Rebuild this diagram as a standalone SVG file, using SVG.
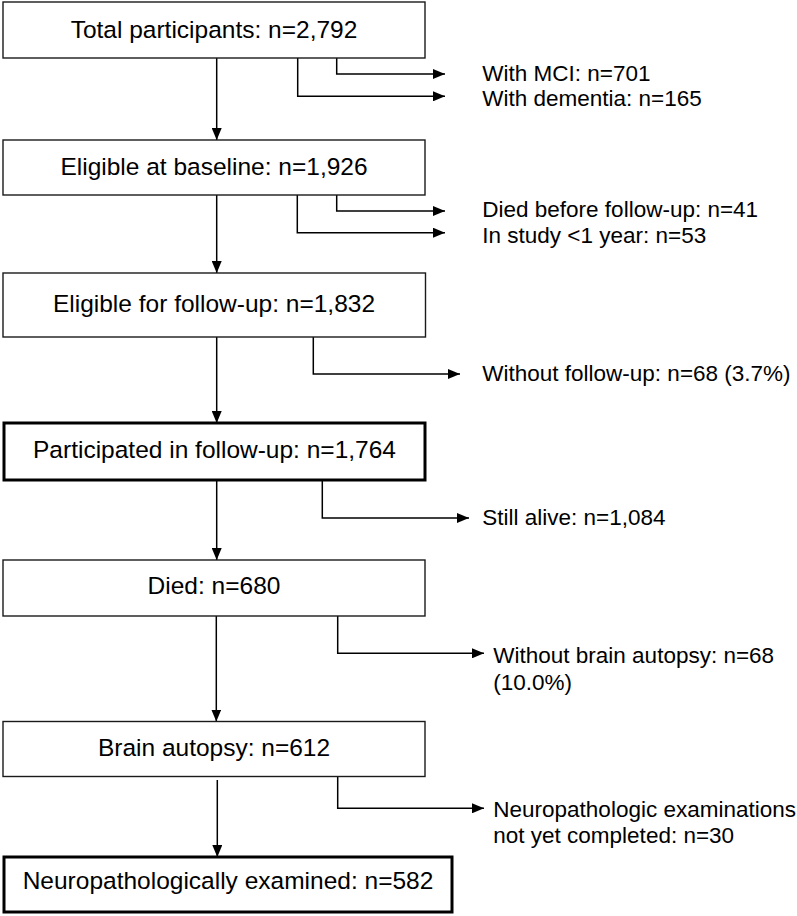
<svg xmlns="http://www.w3.org/2000/svg" width="797" height="916" viewBox="0 0 797 916">
<defs>
<marker id="ah" markerUnits="userSpaceOnUse" markerWidth="12" markerHeight="10" refX="12" refY="5" orient="auto">
<path d="M0,0 L12,5 L0,10 z" fill="#000"/>
</marker>
<style>
.box{fill:#fff;stroke:#1a1a1a;stroke-width:1.4}
.thick{fill:#fff;stroke:#000;stroke-width:3}
.bt{font-family:"Liberation Sans",Arial,sans-serif;font-size:24.5px;fill:#000;text-anchor:middle}
.st{font-family:"Liberation Sans",Arial,sans-serif;font-size:22.5px;fill:#000}
.c{fill:none;stroke:#000;stroke-width:1.5;marker-end:url(#ah)}
</style>
</defs>
<rect width="797" height="916" fill="#fff"/>
<g id="connectors">
<path class="c" d="M216.7,58 V140"/>
<path class="c" d="M216.7,195 V273"/>
<path class="c" d="M216.7,337 V423"/>
<path class="c" d="M216.7,480 V560"/>
<path class="c" d="M216.3,616 V721.5"/>
<path class="c" d="M217.3,780 V857"/>
<path class="c" d="M336.7,58 V74 H445"/>
<path class="c" d="M297.7,58 V96.3 H445"/>
<path class="c" d="M336.7,195 V211 H445"/>
<path class="c" d="M297.3,195 V232.7 H445"/>
<path class="c" d="M313.3,337 V374 H460"/>
<path class="c" d="M322.3,480 V518 H469"/>
<path class="c" d="M337.7,616 V653.3 H484"/>
<path class="c" d="M337.7,777 V808.3 H484"/>
</g>
<g id="n1"><rect class="box" x="3" y="2" width="422" height="56"/><text class="bt" x="214" y="38">Total participants: n=2,792</text></g>
<g id="n2"><rect class="box" x="3" y="140" width="422" height="55"/><text class="bt" x="214" y="175">Eligible at baseline: n=1,926</text></g>
<g id="n3"><rect class="box" x="3" y="273" width="422.5" height="64"/><text class="bt" x="214" y="312">Eligible for follow-up: n=1,832</text></g>
<g id="n4"><rect class="thick" x="4" y="423" width="421" height="57"/><text class="bt" x="214.5" y="458">Participated in follow-up: n=1,764</text></g>
<g id="n5"><rect class="box" x="3" y="560" width="422" height="56"/><text class="bt" x="214" y="594">Died: n=680</text></g>
<g id="n6"><rect class="box" x="3" y="721.5" width="422" height="55"/><text class="bt" x="214" y="756">Brain autopsy: n=612</text></g>
<g id="n7"><rect class="thick" x="4" y="857" width="448" height="55"/><text class="bt" x="228" y="888.5">Neuropathologically examined: n=582</text></g>
<g id="excl1"><text class="st" x="482.3" y="81">With MCI: n=701</text><text class="st" x="482.3" y="106">With dementia: n=165</text></g>
<g id="excl2"><text class="st" x="482.3" y="217">Died before follow-up: n=41</text><text class="st" x="482.3" y="243">In study &lt;1 year: n=53</text></g>
<g id="excl3"><text class="st" x="482.3" y="381">Without follow-up: n=68 (3.7%)</text></g>
<g id="excl4"><text class="st" x="482.3" y="525">Still alive: n=1,084</text></g>
<g id="excl5"><text class="st" x="493.3" y="663">Without brain autopsy: n=68</text><text class="st" x="493.3" y="690">(10.0%)</text></g>
<g id="excl6"><text class="st" x="493.3" y="817">Neuropathologic examinations</text><text class="st" x="493.3" y="843">not yet completed: n=30</text></g>
</svg>
